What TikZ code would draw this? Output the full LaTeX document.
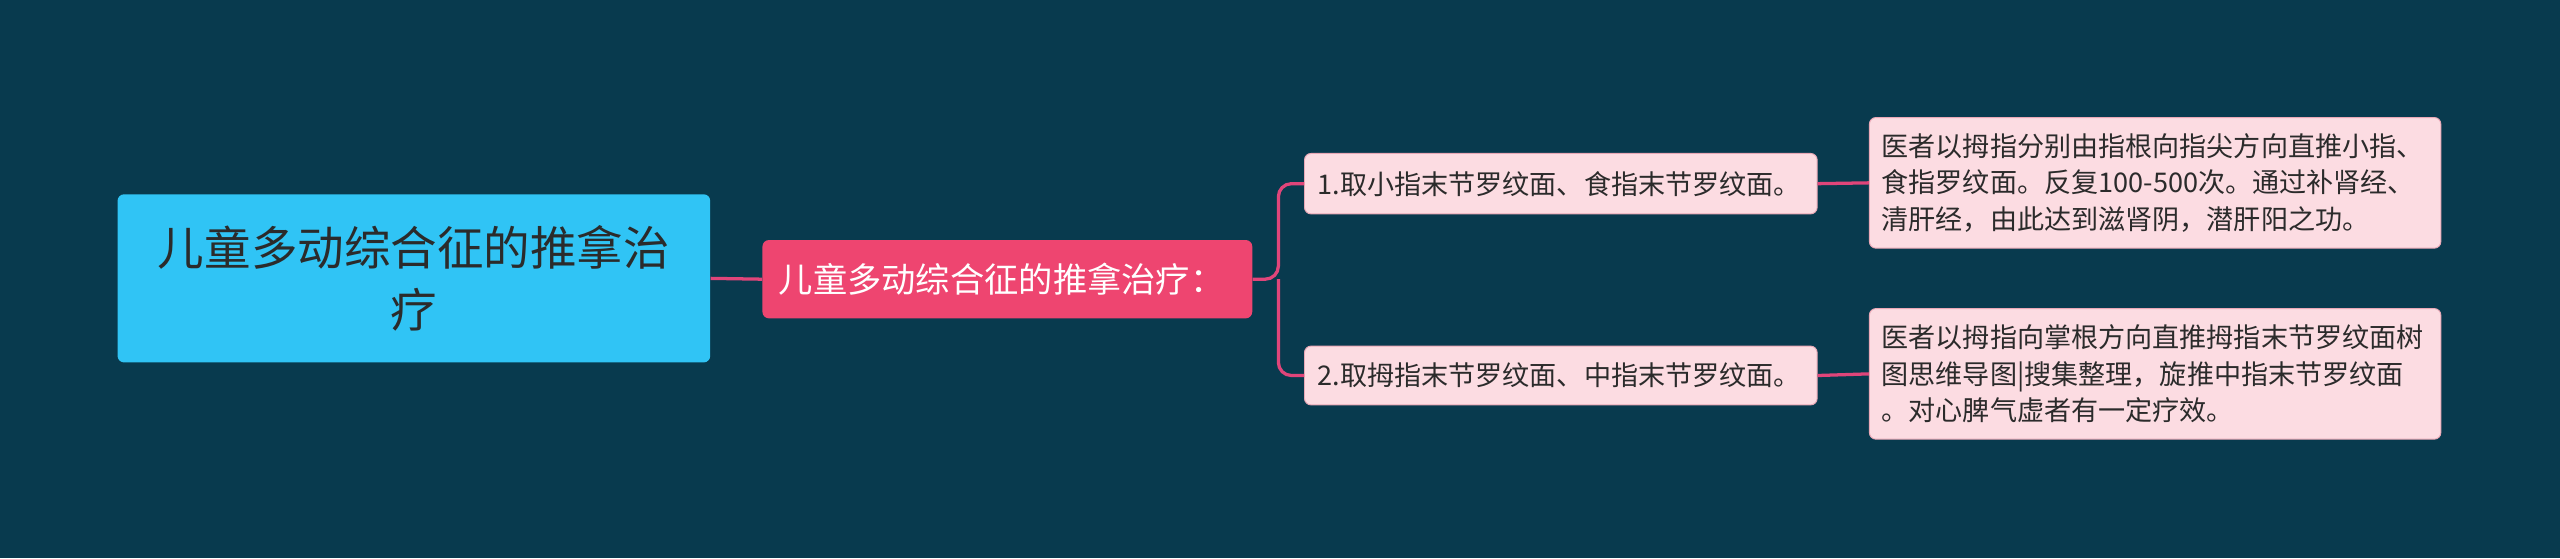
\documentclass[tikz,border=0pt]{standalone}
\usepackage{fontspec}
\setmainfont{Noto Sans CJK SC}
\begin{document}
\begin{tikzpicture}[x=1pt,y=-1pt,
  base/.style={rounded corners=4pt,inner sep=0pt,align=left},
  rootbox/.style={base,fill=rootc,text=txtd,font=\fontsize{28.5}{38}\selectfont,align=center},
  midbox/.style={base,fill=midc,text=white,font=\fontsize{21}{26}\selectfont},
  leafbox/.style={base,fill=leafc,draw=leafd,line width=0.6pt,text=txtd,font=\fontsize{16.6}{22.5}\selectfont},
  conn/.style={draw=linec,line width=2pt,rounded corners=8pt}]
\definecolor{bgc}{HTML}{083A4E}
\definecolor{rootc}{HTML}{30C4F5}
\definecolor{midc}{HTML}{EE4570}
\definecolor{leafc}{HTML}{FCDCE2}
\definecolor{leafd}{HTML}{E9A8B6}
\definecolor{linec}{HTML}{E0457A}
\definecolor{txtd}{HTML}{2B2B2B}
\fill[bgc] (0,0) rectangle (1568,342);
\node[rootbox,minimum width=363pt,minimum height=103pt,text width=330pt] (r) at (253.5,170.5) {儿童多动综合征的推拿治\\疗};
\node[midbox,minimum width=300pt,minimum height=48pt,text width=280pt] (m) at (617,171) {儿童多动综合征的推拿治疗：};
\node[leafbox,minimum width=314pt,minimum height=37pt,text width=298pt] (b1) at (956,112.5) {1.取小指末节罗纹面、食指末节罗纹面。};
\node[leafbox,minimum width=314pt,minimum height=36pt,text width=298pt] (b2) at (956,230) {2.取拇指末节罗纹面、中指末节罗纹面。};
\node[leafbox,minimum width=350pt,minimum height=80pt,text width=335pt] (l1) at (1320,112) {医者以拇指分别由指根向指尖方向直推小指、\\食指罗纹面。反复100-500次。通过补肾经、\\清肝经，由此达到滋肾阴，潜肝阳之功。};
\node[leafbox,minimum width=350pt,minimum height=80pt,text width=335pt] (l2) at (1320,229) {医者以拇指向掌根方向直推拇指末节罗纹面树\\图思维导图|搜集整理，旋推中指末节罗纹面\\。对心脾气虚者有一定疗效。};
\coordinate (j) at (783,171);
\draw[conn] (r.east) -- (m.west);
\draw[conn] (m.east) -- (j) |- (b1.west);
\draw[conn] (j) |- (b2.west);
\draw[conn] (b1.east) -- (l1.west);
\draw[conn] (b2.east) -- (l2.west);
\end{tikzpicture}
\end{document}
